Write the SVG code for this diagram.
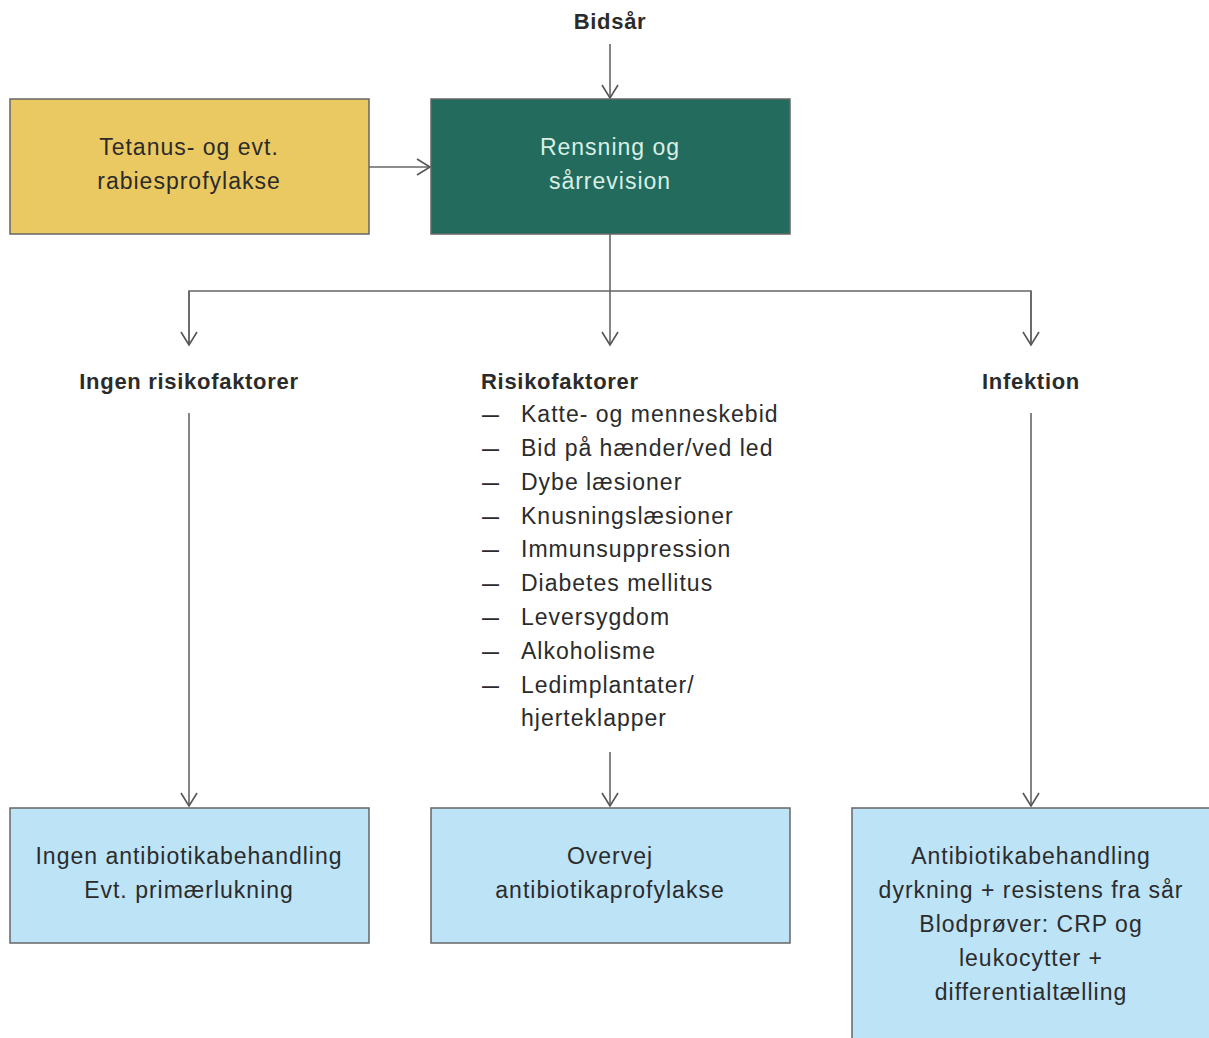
<svg xmlns="http://www.w3.org/2000/svg" width="1209" height="1038" viewBox="0 0 1209 1038">
<defs>
<marker id="arr" markerWidth="16" markerHeight="18" refX="14" refY="9" orient="auto" markerUnits="userSpaceOnUse" viewBox="0 0 16 18">
<path d="M1,1 L14,9 L1,17" fill="none" stroke="#555" stroke-width="1.6"/>
</marker>
<style>
text{font-family:"Liberation Sans",Arial,sans-serif;fill:#2b2b2b;font-size:23px;letter-spacing:1px}
.b{font-weight:bold;font-size:22px;letter-spacing:0.7px}
.c{text-anchor:middle}
.d{font-size:17px;letter-spacing:0;font-weight:bold}
.w{fill:#d9efe6}
.box{stroke:#666;stroke-width:1.5}
.y{fill:#ebc962}
.g{fill:#236b5d}
.l{fill:#bde3f7}
.ln{fill:none;stroke:#666;stroke-width:1.6}
</style>
</defs>
<rect width="1209" height="1038" fill="#fff"/>
<g id="connectors">
<line class="ln" x1="610" y1="44" x2="610" y2="98" marker-end="url(#arr)"/>
<line class="ln" x1="369" y1="167" x2="430" y2="167" marker-end="url(#arr)"/>
<line class="ln" x1="610" y1="234" x2="610" y2="345" marker-end="url(#arr)"/>
<polyline class="ln" points="189,345 189,291 1031,291 1031,345"/>
<line class="ln" x1="189" y1="291" x2="189" y2="345" marker-end="url(#arr)"/>
<line class="ln" x1="1031" y1="291" x2="1031" y2="345" marker-end="url(#arr)"/>
<line class="ln" x1="189" y1="413" x2="189" y2="806" marker-end="url(#arr)"/>
<line class="ln" x1="610" y1="752" x2="610" y2="806" marker-end="url(#arr)"/>
<line class="ln" x1="1031" y1="413" x2="1031" y2="806" marker-end="url(#arr)"/>
</g>
<g id="bidsar">
<text class="b c" x="610" y="29">Bidsår</text>
</g>
<g id="tetanus">
<rect class="box y" x="10" y="99" width="359" height="135"/>
<text class="c" x="189" y="155">Tetanus- og evt.</text>
<text class="c" x="189" y="189">rabiesprofylakse</text>
</g>
<g id="rensning">
<rect class="box g" x="431" y="99" width="359" height="135"/>
<text class="c w" x="610" y="155">Rensning og</text>
<text class="c w" x="610" y="189">sårrevision</text>
</g>
<g id="ingen-risiko">
<text class="b c" x="189" y="389">Ingen risikofaktorer</text>
</g>
<g id="risikofaktorer">
<text class="b" x="481" y="389">Risikofaktorer</text>
<g>
<text class="d" x="482" y="421">—</text><text x="521" y="422">Katte- og menneskebid</text>
<text class="d" x="482" y="455">—</text><text x="521" y="456">Bid på hænder/ved led</text>
<text class="d" x="482" y="489">—</text><text x="521" y="490">Dybe læsioner</text>
<text class="d" x="482" y="523">—</text><text x="521" y="524">Knusningslæsioner</text>
<text class="d" x="482" y="556">—</text><text x="521" y="557">Immunsuppression</text>
<text class="d" x="482" y="590">—</text><text x="521" y="591">Diabetes mellitus</text>
<text class="d" x="482" y="624">—</text><text x="521" y="625">Leversygdom</text>
<text class="d" x="482" y="658">—</text><text x="521" y="659">Alkoholisme</text>
<text class="d" x="482" y="692">—</text><text x="521" y="693">Ledimplantater/</text>
<text x="521" y="726">hjerteklapper</text>
</g>
</g>
<g id="infektion">
<text class="b c" x="1031" y="389">Infektion</text>
</g>
<g id="ingen-antibiotika">
<rect class="box l" x="10" y="808" width="359" height="135"/>
<text class="c" x="189" y="864">Ingen antibiotikabehandling</text>
<text class="c" x="189" y="898">Evt. primærlukning</text>
</g>
<g id="overvej">
<rect class="box l" x="431" y="808" width="359" height="135"/>
<text class="c" x="610" y="864">Overvej</text>
<text class="c" x="610" y="898">antibiotikaprofylakse</text>
</g>
<g id="antibiotika">
<rect class="box l" x="852" y="808" width="370" height="240"/>
<text class="c" x="1031" y="864">Antibiotikabehandling</text>
<text class="c" x="1031" y="898">dyrkning + resistens fra sår</text>
<text class="c" x="1031" y="932">Blodprøver: CRP og</text>
<text class="c" x="1031" y="966">leukocytter +</text>
<text class="c" x="1031" y="1000">differentialtælling</text>
</g>
</svg>
